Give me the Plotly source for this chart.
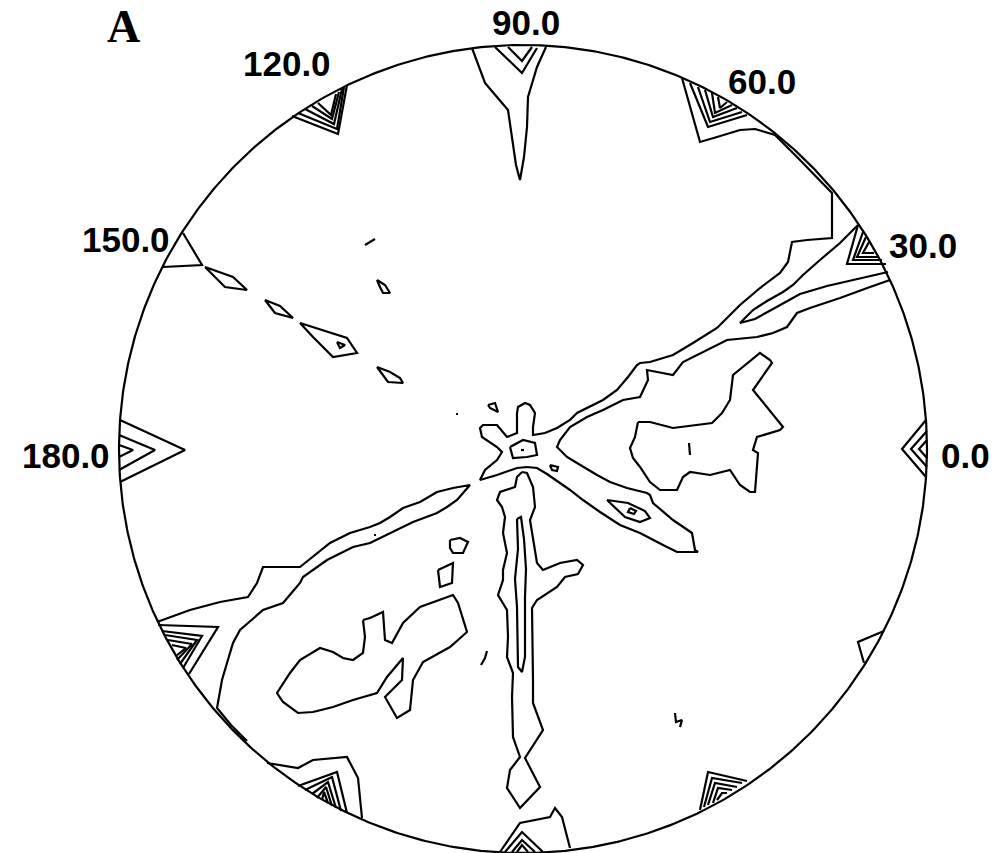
import numpy as np
import plotly.graph_objects as go

# Pole-figure coordinates: centre of the projection at (0, 0), rim radius 404 units.
RIM_RADIUS = 404

# Angle labels around the rim
LABEL_ANGLES = [0, 30, 60, 90, 120, 150, 180]
LABEL_TEXT = ["0.0", "30.0", "60.0", "90.0", "120.0", "150.0", "180.0"]
PANEL_LETTER = "A"

# ---- contour polylines (x, y in projection units) ----
RIM_000 = [
    [(403, 29), (379, 0), (403, -28)],
    [(404, 18), (388, 0), (404, -18)],
    [(404, 9), (396, 0), (404, -9)],
]

RIM_090 = [
    [(-51, 401), (-38, 366), (-15, 339), (-10, 306), (-7, 284), (-3, 269), (1, 292), (4, 322), (5, 352), (14, 382), (23, 402)],
    [(-28, 402), (-1, 376), (14, 401)],
    [(-15, 402), (-1, 388), (9, 402)],
]

RIM_060_MAIN = [
    [(159, 371), (177, 307), (194, 312), (217, 319), (232, 320), (252, 314), (275, 291), (302, 264), (309, 256),
     (309, 211), (284, 209), (269, 207), (265, 187), (257, 176), (237, 161), (217, 144), (207, 134), (194, 121),
     (170, 106), (150, 94), (127, 87), (117, 86), (114, 84), (105, 72), (94, 59), (80, 49), (54, 36), (47, 29),
     (34, 21), (22, 16), (10, 14), (10, 22), (12, 36), (7, 44), (2, 46), (-5, 42), (-6, 36), (-6, 16), (-16, 12),
     (-26, 24), (-40, 24), (-43, 21), (-41, 12), (-26, 2), (-21, -3), (-26, -11), (-38, -21), (-43, -31),
     (-26, -26), (-6, -19), (4, -18), (14, -19), (24, -25), (37, -34), (47, -41), (60, -51), (77, -63),
     (97, -76), (117, -84), (140, -96), (154, -103), (175, -103), (172, -101), (169, -84), (150, -71),
     (130, -54), (127, -46), (124, -44), (104, -39), (87, -33), (74, -26), (54, -14), (44, -8), (34, 2),
     (37, 9), (47, 22), (64, 32), (80, 39), (100, 49), (117, 52), (125, 69), (124, 79), (150, 74), (160, 87),
     (204, 109), (234, 112), (250, 116), (264, 122), (274, 136), (287, 141), (317, 151), (347, 162), (367, 169)],
]

RIM_060_NEST = [
    [(167, 366), (185, 322), (224, 334)],
    [(175, 362), (187, 327), (219, 337)],
    [(182, 359), (190, 332), (214, 341)],
    [(189, 356), (192, 336), (209, 344)],
    [(195, 352), (197, 341), (204, 347)],
]

RIM_030 = [
    [(335, 224), (317, 206), (297, 189), (280, 174), (270, 164), (260, 157), (244, 148), (230, 139), (217, 126),
     (232, 130), (250, 140), (264, 148), (277, 155), (304, 163), (330, 169), (350, 173), (365, 177)],
    [(335, 224), (324, 185), (363, 185)],
    [(340, 217), (330, 189), (359, 189)],
    [(343, 212), (334, 192), (355, 192)],
    [(346, 207), (340, 196), (351, 196)],
]

RIM_120 = [
    [(-231, 333), (-185, 315), (-176, 364)],
    [(-225, 336), (-186, 320), (-179, 362)],
    [(-218, 340), (-189, 325), (-181, 360)],
    [(-211, 343), (-191, 330), (-184, 357)],
    [(-205, 346), (-192, 334), (-187, 355)],
]

RIM_150 = [
    [(-340, 216), (-321, 184), (-360, 182)],
]

RIM_180 = [
    [(-403, 29), (-338, -1), (-403, -33)],
    [(-404, 14), (-368, -1), (-404, -21)],
    [(-404, 4), (-390, -1), (-404, -8)],
]

BAND_210 = [
    [(-366, -173), (-333, -161), (-303, -153), (-275, -148), (-266, -134), (-265, -131), (-260, -118),
     (-223, -118), (-193, -94), (-173, -84), (-153, -78), (-143, -74), (-133, -68), (-120, -59), (-103, -53),
     (-86, -43), (-70, -39), (-53, -36), (-66, -51), (-76, -58), (-86, -64), (-110, -73), (-126, -81),
     (-140, -88), (-153, -94), (-170, -98), (-196, -111), (-220, -128), (-223, -134), (-240, -154),
     (-260, -161), (-283, -181), (-290, -194), (-296, -214), (-301, -231), (-306, -259), (-292, -276),
     (-276, -292)],
]

RIM_210 = [
    [(-365, -176), (-305, -178), (-334, -225)],
    [(-361, -182), (-321, -187), (-340, -219)],
    [(-358, -186), (-326, -191), (-343, -215)],
    [(-355, -191), (-331, -195), (-346, -211)],
    [(-351, -196), (-337, -199), (-347, -207)],
]

RIM_240 = [
    [(-256, -314), (-225, -319), (-210, -311), (-176, -308), (-165, -329), (-161, -369)],
    [(-225, -337), (-186, -323), (-176, -364)],
    [(-218, -341), (-191, -328), (-182, -362)],
    [(-211, -345), (-195, -333), (-187, -359)],
    [(-206, -349), (-197, -338), (-191, -357)],
    [(-201, -351), (-199, -343), (-195, -354)],
]

RIM_270 = [
    [(-23, -403), (-3, -374), (27, -368), (32, -359), (39, -368), (47, -399)],
    [(-18, -403), (-1, -383), (20, -403)],
    [(-11, -403), (-1, -391), (12, -403)],
    [(-6, -403), (-1, -396), (5, -403)],
]

RIM_300 = [
    [(177, -361), (185, -323), (224, -332)],
    [(181, -358), (189, -329), (219, -334)],
    [(185, -356), (192, -334), (214, -338)],
    [(190, -354), (195, -339), (209, -341)],
    [(194, -351), (199, -344), (204, -344)],
]

RIM_330 = [
    [(361, -182), (335, -193), (341, -214)],
]

CENTRE = [
    [(-13, 2), (0, 9), (12, 6), (14, -6), (4, -8), (-10, -9), (-13, 2)],
    [(-2, -1), (1, -1)],
    [(27, -16), (35, -18), (34, -22), (29, -21), (27, -16)],
    [(-35, 44), (-28, 46), (-25, 37), (-30, 39), (-33, 41), (-35, 44)],
    [(-67, 35), (-65, 35)],
]

ARM_INNER = [
    [(84, -51), (105, -54), (122, -62), (127, -69), (117, -73), (102, -68), (84, -51)],
    [(107, -59), (113, -62), (111, -65), (105, -63), (107, -59)],
]

BLOB_EAST = [
    [(115, 27), (127, 27), (150, 21), (189, 26), (199, 36), (207, 49), (210, 74), (237, 96), (247, 89),
     (249, 86), (230, 59), (260, 22), (257, 19), (234, 12), (230, -1), (235, -4), (232, -43), (227, -43),
     (217, -36), (207, -21), (187, -26), (167, -23), (160, -28), (154, -41), (137, -41), (127, -33),
     (117, -18), (110, -9), (107, 1), (112, 12), (115, 27)],
    [(166, 6), (167, -6)],
]

BAND_270 = [
    [(-1, -23), (-6, -28), (-8, -38), (-23, -43), (-26, -51), (-21, -58), (-18, -68), (-20, -84), (-16, -104),
     (-20, -121), (-20, -131), (-25, -146), (-16, -161), (-15, -188), (-16, -208), (-10, -224), (-11, -248),
     (-10, -288), (-3, -308), (-13, -321), (-16, -339), (-3, -359), (17, -338), (2, -309), (20, -281),
     (10, -254), (10, -231), (9, -159), (14, -151), (34, -138), (42, -128), (55, -125), (60, -116),
     (54, -111), (37, -114), (20, -121), (14, -114), (10, -91), (7, -71), (12, -58), (10, -38), (4, -24),
     (-1, -23)],
    [(-6, -70), (-5, -100), (-8, -130), (-6, -158), (-5, -218), (-1, -223), (2, -208), (2, -148), (3, -120),
     (1, -90), (-2, -68), (-6, -70)],
]

SMALL_SOUTH = [
    [(-73, -91), (-63, -89), (-55, -93), (-60, -104), (-70, -104), (-73, -99), (-73, -91)],
    [(-85, -121), (-70, -114), (-71, -134), (-83, -138), (-85, -121)],
    [(-42, -216), (-38, -209), (-36, -202)],
    [(-149, -86), (-147, -86)],
    [(152, -264), (153, -273), (159, -271), (157, -278)],
]

BLOB_SOUTHWEST = [
    [(-160, -171), (-153, -169), (-140, -163), (-138, -191), (-131, -194), (-120, -174), (-103, -158),
     (-90, -153), (-70, -146), (-65, -154), (-56, -183), (-73, -198), (-100, -213), (-110, -231),
     (-113, -261), (-126, -269), (-138, -248), (-121, -231), (-120, -209), (-136, -228), (-146, -244),
     (-170, -251), (-190, -258), (-210, -263), (-225, -264), (-240, -253), (-246, -244), (-233, -224),
     (-223, -211), (-203, -199), (-190, -203), (-180, -209), (-170, -211), (-160, -204), (-158, -188),
     (-160, -171)],
]

SMALL_NORTHWEST = [
    [(-318, 182), (-290, 172), (-276, 159), (-298, 162), (-313, 177), (-318, 182)],
    [(-258, 149), (-243, 143), (-230, 131), (-248, 136), (-258, 149)],
    [(-223, 126), (-193, 116), (-176, 111), (-166, 96), (-190, 92), (-210, 112), (-223, 126)],
    [(-186, 107), (-178, 104), (-183, 101), (-186, 107)],
    [(-146, 82), (-133, 77), (-123, 71), (-120, 66), (-135, 67), (-146, 82)],
    [(-158, 204), (-148, 210)],
    [(-146, 169), (-138, 164), (-133, 156), (-140, 156), (-143, 162), (-146, 169)],
]

CONTOUR_GROUPS = [RIM_000, RIM_090, RIM_060_MAIN, RIM_060_NEST, RIM_030, RIM_120, RIM_150, RIM_180,
                  BAND_210, RIM_210, RIM_240, RIM_270, RIM_300, RIM_330, CENTRE, ARM_INNER, BLOB_EAST,
                  BAND_270, SMALL_SOUTH, BLOB_SOUTHWEST, SMALL_NORTHWEST]


def flatten(groups):
    xs, ys = [], []
    for group in groups:
        for line in group:
            for (x, y) in line:
                xs.append(x)
                ys.append(y)
            xs.append(None)
            ys.append(None)
    return xs, ys


fig = go.Figure()

# projection rim
theta = np.linspace(0, 2 * np.pi, 721)
fig.add_trace(go.Scatter(x=RIM_RADIUS * np.cos(theta), y=RIM_RADIUS * np.sin(theta), mode="lines",
                         line=dict(color="black", width=2.2), hoverinfo="skip", showlegend=False))

cx, cy = flatten(CONTOUR_GROUPS)
fig.add_trace(go.Scatter(x=cx, y=cy, mode="lines", line=dict(color="black", width=2.2),
                         hoverinfo="skip", showlegend=False))

# angle labels
LABEL_R = 412
anchors = {0: ("left", 4, -6), 30: ("left", 7, -2), 60: ("left", -3, 11), 90: ("center", 3, 15),
           120: ("right", 16, 29), 150: ("right", 6, 4), 180: ("right", 1, -6)}
for ang, txt in zip(LABEL_ANGLES, LABEL_TEXT):
    xa, dx, dy = anchors[ang]
    fig.add_annotation(x=LABEL_R * np.cos(np.radians(ang)), y=LABEL_R * np.sin(np.radians(ang)),
                       text=f"<b>{txt}</b>", showarrow=False, xanchor=xa, yanchor="middle",
                       xshift=dx, yshift=dy,
                       font=dict(family="Liberation Sans, Arial, sans-serif", size=35, color="black"))

fig.add_annotation(x=-400, y=423, text=f"<b>{PANEL_LETTER}</b>", showarrow=False, xanchor="center",
                   yanchor="middle", font=dict(family="Liberation Serif, Times New Roman, serif", size=46,
                                               color="black"))

fig.update_layout(width=995, height=853, autosize=False, margin=dict(l=0, r=0, t=0, b=0),
                  paper_bgcolor="white", plot_bgcolor="white", showlegend=False)
fig.update_xaxes(range=[-523, 472], visible=False, showgrid=False, zeroline=False)
fig.update_yaxes(range=[-404, 449], visible=False, showgrid=False, zeroline=False)

fig.write_html("out.html", config={"displayModeBar": False},
               post_script="document.body.style.margin='0px';document.body.style.overflow='hidden';")
